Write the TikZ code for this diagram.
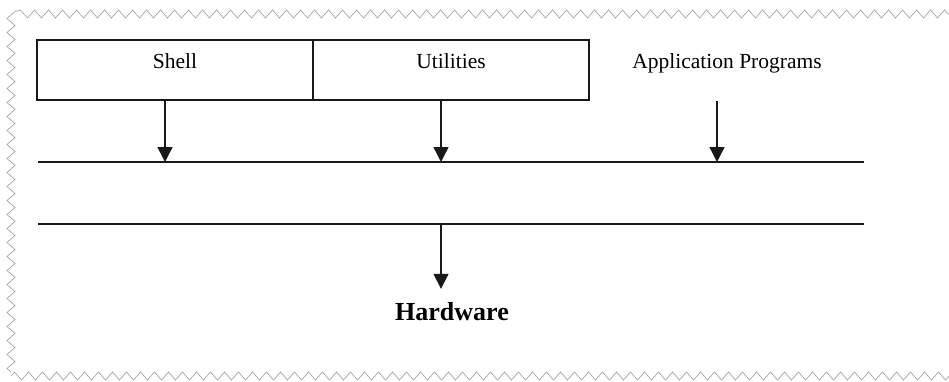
\documentclass[tikz,border=0pt]{standalone}
\usepackage{fontspec}
\setmainfont{Liberation Serif}
\usetikzlibrary{arrows.meta,decorations.pathmorphing}
\def\LayerInk{black!90}

\begin{document}
\begin{tikzpicture}[x=1pt, y=-1pt, every path/.style={\LayerInk, line width=1.4pt},
    layer/.style={draw, minimum width=276pt, minimum height=60pt, inner sep=0pt,
      text depth=18pt, text=black, font=\fontsize{21.5}{25}\selectfont},
    down/.style={-{Triangle[width=15pt, length=15pt]}},
    torn/.style={draw=black!35, line width=0.7pt, decorate,
      decoration={zigzag, segment length=14pt, amplitude=4pt}}]
  \useasboundingbox (0,0) rectangle (949,381);
  % torn page edge
  \draw[torn] (11,372) -- (11,14) -- (949,14);
  \draw[torn] (11,376) -- (949,376);
  % upper layer
  \node[layer] (shell) at (175,70) {Shell};
  \node[layer] (util) at (451,70) {Utilities};
  \node[layer, draw=none] (apps) at (727,70) {Application Programs};
  % the two bus lines
  \coordinate (topL) at (38,162);
  \coordinate (topR) at (864,162);
  \coordinate (lowL) at (38,224);
  \coordinate (lowR) at (864,224);
  \draw (topL) -- (topR);
  \draw (lowL) -- (lowR);
  \foreach \n in {shell, util, apps} {
    \draw[down] ([xshift=-10pt]\n.south |- shell.south) -- ([xshift=-10pt]\n.south |- topL);
  }
  \node[text=black, font=\fontsize{26}{30}\selectfont\bfseries] (hw) at (452,312) {Hardware};
  \draw[down, shorten >=10pt] ([xshift=-11pt]hw.north |- lowL) -- ([xshift=-11pt]hw.north);
\end{tikzpicture}
\end{document}
